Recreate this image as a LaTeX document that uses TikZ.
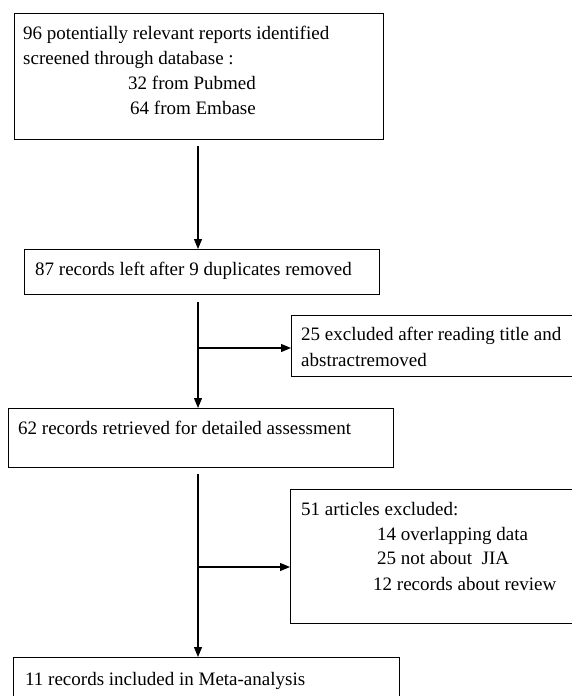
\documentclass[tikz,border=0pt]{standalone}
\usepackage{fontspec}
\setmainfont{Liberation Serif}
\usetikzlibrary{positioning,arrows.meta}

\begin{document}
\begin{tikzpicture}[x=1pt, y=-1pt, font=\fontsize{19}{25}\selectfont,
  stage/.style={draw, line width=1.2pt, inner sep=0pt, anchor=north west},
  txt/.style={anchor=base west, inner sep=0pt},
  flow/.style={line width=1.2pt, -{Triangle[length=10pt,width=8pt]}}]
\useasboundingbox (0,0) rectangle (572,696);
% boxes
\node[stage, minimum width=369pt, minimum height=126pt] (ident) at (14,13) {};
\node[stage, minimum width=355pt, minimum height=45pt] (dup) at (24,249) {};
\node[stage, minimum width=289pt, minimum height=61pt] (excl1) at (291,315) {};
\node[stage, minimum width=385pt, minimum height=59pt] (retr) at (8,408) {};
\node[stage, minimum width=290pt, minimum height=134pt] (excl2) at (290,489) {};
\node[stage, minimum width=386pt, minimum height=60pt] (incl) at (13,657) {};
% texts
\foreach \x/\y/\t [count=\i] in {23/39/96 potentially relevant reports identified, 23/64/screened through database :, 128/89/32 from Pubmed, 130/114/64 from Embase}
  \node[txt] (ident-\i) at (\x,\y) {\t};
\node[txt] (dup-1) at (35,275) {87 records left after 9 duplicates removed};
\node[txt] (excl1-1) at (301,340) {25 excluded after reading title and};
\node[txt] (excl1-2) at (301,366) {abstractremoved};
\node[txt] (retr-1) at (18,434) {62 records retrieved for detailed assessment};
\foreach \x/\y/\t [count=\i] in {301/515/51 articles excluded:, 377/540/14 overlapping data, 377/564/25 not about\ \ JIA, 373/590/12 records about review}
  \node[txt] (excl2-\i) at (\x,\y) {\t};
\node[txt] (incl-1) at (25,685) {11 records included in Meta-analysis};
% connectors
\coordinate (spine) at (198,0);
\coordinate (fork1) at (198,348);
\coordinate (fork2) at (198,567);
\draw[flow, shorten <=6pt] (ident.south -| spine) -- (dup.north -| spine);
\draw[flow, shorten <=7pt] (dup.south -| spine) -- (retr.north -| spine);
\draw[flow, shorten <=6pt] (retr.south -| spine) -- (incl.north -| spine);
\draw[flow] (fork1) -- (fork1 -| excl1.west);
\draw[flow] (fork2) -- (fork2 -| excl2.west);
\end{tikzpicture}
\end{document}
